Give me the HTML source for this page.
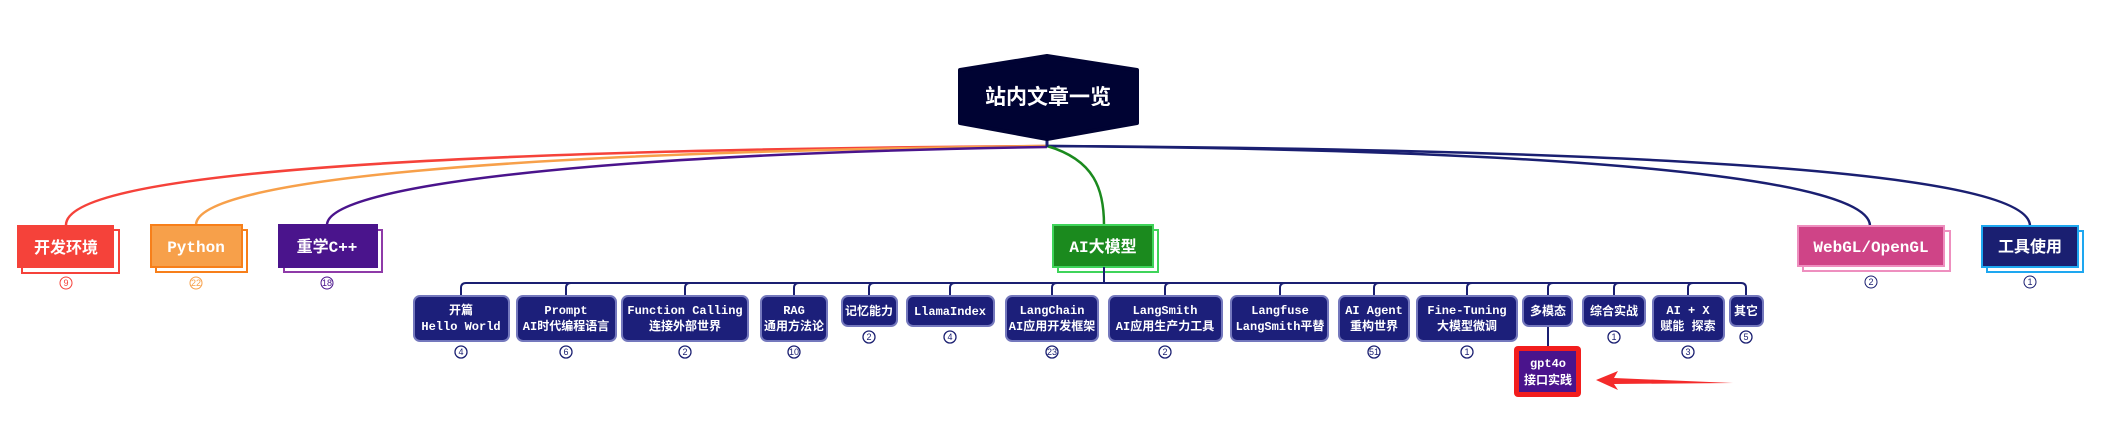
<!DOCTYPE html>
<html><head><meta charset="utf-8"><style>
html,body{margin:0;padding:0;background:#fff;width:2112px;height:432px;overflow:hidden}
svg text{font-family:"Liberation Mono","Noto Sans CJK SC",monospace;font-weight:bold;fill:#fff;text-anchor:middle}
.c{fill:#fff;stroke:#1a1f71;stroke-width:1.3}
.ct{font-family:"Liberation Sans",sans-serif;font-weight:normal;font-size:9px;fill:#1a1f71}
.b{fill:#1c1f7a;stroke:#7478bd;stroke-width:2}
</style></head><body>
<svg width="2112" height="432" viewBox="0 0 2112 432" xmlns="http://www.w3.org/2000/svg">
<g fill="none" stroke-width="2.5">
<path d="M66,225 C66,175 400,150 1047,146" stroke="#f5423a"/>
<path d="M196,225 C196,180 500,152 1047,146" stroke="#f7a04a"/>
<path d="M327,225 C327,185 600,154 1047,147" stroke="#4a148c"/>
<path d="M1870,226 C1870,180 1600,150 1047,146" stroke="#1a1f71"/>
<path d="M2030,226 C2030,175 1700,150 1047,146" stroke="#1a1f71"/>
<path d="M1047,146 C1095,160 1104,190 1104,225" stroke="#1b8a1e"/>
<path d="M1047,136 L1047,147" stroke="#1a1f71" stroke-width="3"/>
</g>
<polygon points="960,70 1047,56 1137,70 1137,123 1047,139 960,123" fill="#000333" stroke="#000333" stroke-width="4" stroke-linejoin="round"/>
<text x="1048" y="104" font-size="21" font-family="Liberation Sans,Noto Sans CJK SC,sans-serif">站内文章一览</text>
<g>
<rect x="22" y="230" width="97" height="43" fill="#fff" stroke="#f5423a" stroke-width="2"/>
<rect x="17" y="225" width="97" height="43" fill="#f5423a"/>
<text x="66" y="253" font-size="16">开发环境</text>
<circle cx="66" cy="283" r="6" fill="#fff" stroke="#f5423a"/><text class="ct" x="66" y="286" style="fill:#f5423a">9</text>

<rect x="156" y="230" width="91" height="42" fill="#fff" stroke="#f77f1a" stroke-width="2"/>
<rect x="151" y="225" width="91" height="42" fill="#f7a04a" stroke="#f77f1a" stroke-width="2"/>
<text x="196" y="252" font-size="16">Python</text>
<circle cx="196" cy="283" r="6" fill="#fff" stroke="#f7a04a"/><text class="ct" x="196" y="286" style="fill:#f7a04a">22</text>

<rect x="284" y="230" width="98" height="42" fill="#fff" stroke="#8e3aa8" stroke-width="2"/>
<rect x="279" y="225" width="98" height="42" fill="#4a148c" stroke="#4a148c" stroke-width="2"/>
<text x="327" y="252" font-size="16">重学C++</text>
<circle cx="327" cy="283" r="6" fill="#fff" stroke="#4a148c"/><text class="ct" x="327" y="286" style="fill:#4a148c">18</text>

<rect x="1058" y="230" width="100" height="42" fill="#fff" stroke="#3fd45a" stroke-width="2"/>
<rect x="1053" y="225" width="100" height="42" fill="#1b8a1e" stroke="#3fd45a" stroke-width="2"/>
<text x="1103" y="252" font-size="16">AI大模型</text>

<rect x="1803" y="231" width="147" height="40" fill="#fff" stroke="#ee8fbf" stroke-width="2"/>
<rect x="1798" y="226" width="146" height="40" fill="#cf4487" stroke="#ee8fbf" stroke-width="2"/>
<text x="1871" y="252" font-size="16">WebGL/OpenGL</text>
<circle cx="1871" cy="282" r="6" fill="#fff" stroke="#1a1f71"/><text class="ct" x="1871" y="285">2</text>

<rect x="1987" y="231" width="96" height="41" fill="#fff" stroke="#1ea7f0" stroke-width="2"/>
<rect x="1982" y="226" width="96" height="41" fill="#1a1f71" stroke="#1ea7f0" stroke-width="2"/>
<text x="2030" y="252" font-size="16">工具使用</text>
<circle cx="2030" cy="282" r="6" fill="#fff" stroke="#1a1f71"/><text class="ct" x="2030" y="285">1</text>
</g>
<g fill="none" stroke="#1a1f71" stroke-width="2">
<line x1="1104" y1="267" x2="1104" y2="283"/>
<path d="M461,296 V288 Q461,283 466,283 H1741 Q1746,283 1746,288 V296"/>
<path d="M566,296 V288 Q566,283 571,283 M685,296 V288 Q685,283 690,283 M794,296 V288 Q794,283 799,283 M869,296 V288 Q869,283 874,283 M950,296 V288 Q950,283 955,283 M1052,296 V288 Q1052,283 1057,283 M1165,296 V288 Q1165,283 1170,283 M1280,296 V288 Q1280,283 1285,283 M1374,296 V288 Q1374,283 1379,283 M1467,296 V288 Q1467,283 1472,283 M1548,296 V288 Q1548,283 1553,283 M1614,296 V288 Q1614,283 1619,283 M1688,296 V288 Q1688,283 1693,283"/>
<line x1="1548" y1="325" x2="1548" y2="346"/>
</g>
<g font-size="12">
<rect class="b" x="414" y="296" width="95" height="45" rx="6"/><text x="461" y="314">开篇</text><text x="461" y="330">Hello World</text>
<rect class="b" x="517" y="296" width="99" height="45" rx="6"/><text x="566" y="314">Prompt</text><text x="566" y="330">AI时代编程语言</text>
<rect class="b" x="622" y="296" width="126" height="45" rx="6"/><text x="685" y="314">Function Calling</text><text x="685" y="330">连接外部世界</text>
<rect class="b" x="761" y="296" width="66" height="45" rx="6"/><text x="794" y="314">RAG</text><text x="794" y="330">通用方法论</text>
<rect class="b" x="842" y="296" width="55" height="30" rx="6"/><text x="869" y="315">记忆能力</text>
<rect class="b" x="907" y="296" width="87" height="30" rx="6"/><text x="950" y="315">LlamaIndex</text>
<rect class="b" x="1006" y="296" width="92" height="45" rx="6"/><text x="1052" y="314">LangChain</text><text x="1052" y="330">AI应用开发框架</text>
<rect class="b" x="1109" y="296" width="113" height="45" rx="6"/><text x="1165" y="314">LangSmith</text><text x="1165" y="330">AI应用生产力工具</text>
<rect class="b" x="1231" y="296" width="97" height="45" rx="6"/><text x="1280" y="314">Langfuse</text><text x="1280" y="330">LangSmith平替</text>
<rect class="b" x="1339" y="296" width="70" height="45" rx="6"/><text x="1374" y="314">AI Agent</text><text x="1374" y="330">重构世界</text>
<rect class="b" x="1417" y="296" width="100" height="45" rx="6"/><text x="1467" y="314">Fine-Tuning</text><text x="1467" y="330">大模型微调</text>
<rect class="b" x="1523" y="296" width="49" height="30" rx="6"/><text x="1548" y="315">多模态</text>
<rect class="b" x="1583" y="296" width="62" height="30" rx="6"/><text x="1614" y="315">综合实战</text>
<rect class="b" x="1653" y="296" width="71" height="45" rx="6"/><text x="1688" y="314">AI + X</text><text x="1688" y="330">赋能 探索</text>
<rect class="b" x="1730" y="296" width="33" height="30" rx="6"/><text x="1746" y="315">其它</text>
</g>
<g>
<g class="c"><circle cx="461" cy="352" r="6"/><circle cx="566" cy="352" r="6"/><circle cx="685" cy="352" r="6"/><circle cx="794" cy="352" r="6"/><circle cx="869" cy="337" r="6"/><circle cx="950" cy="337" r="6"/><circle cx="1052" cy="352" r="6"/><circle cx="1165" cy="352" r="6"/><circle cx="1374" cy="352" r="6"/><circle cx="1467" cy="352" r="6"/><circle cx="1614" cy="337" r="6"/><circle cx="1688" cy="352" r="6"/><circle cx="1746" cy="337" r="6"/></g>
<text class="ct" x="461" y="355">4</text><text class="ct" x="566" y="355">6</text><text class="ct" x="685" y="355">2</text><text class="ct" x="794" y="355">10</text><text class="ct" x="869" y="340">2</text><text class="ct" x="950" y="340">4</text><text class="ct" x="1052" y="355">23</text><text class="ct" x="1165" y="355">2</text><text class="ct" x="1374" y="355">51</text><text class="ct" x="1467" y="355">1</text><text class="ct" x="1614" y="340">1</text><text class="ct" x="1688" y="355">3</text><text class="ct" x="1746" y="340">5</text>
</g>
<rect x="1514" y="346" width="67" height="51" rx="4" fill="#f21d1d"/>
<rect x="1519" y="351" width="57" height="41" fill="#4a148c"/>
<text x="1548" y="367" font-size="12">gpt4o</text><text x="1548" y="384" font-size="12">接口实践</text>
<polygon points="1596,380 1618,371 1614,378 1733,383 1614,384 1618,390" fill="#f42b2b"/>
</svg>
</body></html>
